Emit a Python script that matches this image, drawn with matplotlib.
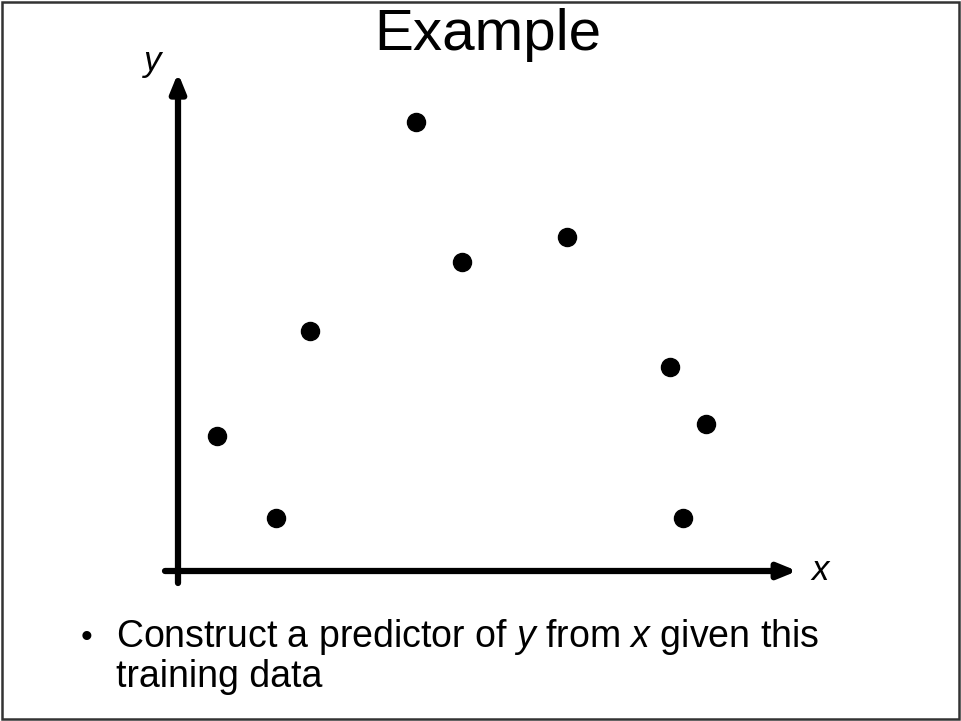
import matplotlib
matplotlib.use("Agg")
import matplotlib.pyplot as plt
from matplotlib.patches import Rectangle

plt.rcParams['font.family'] = ['Liberation Sans', 'DejaVu Sans']
plt.rcParams['mathtext.fontset'] = 'custom'
plt.rcParams['mathtext.rm'] = 'Liberation Sans'
plt.rcParams['mathtext.it'] = 'Liberation Sans:italic'

# training data
x_vals = [0.65, 1.63, 2.20, 3.97, 4.73, 6.48, 8.20, 8.80, 8.42]
y_vals = [2.25, 0.88, 4.00, 7.48, 5.15, 5.57, 3.40, 2.45, 0.88]

title_text = "Example"
caption_lines = ["Construct a predictor of $y$ from $x$ given this", "training data"]

W, H, DPI = 961, 721, 100
fig = plt.figure(figsize=(W / DPI, H / DPI), dpi=DPI)
ax = fig.add_axes([0, 0, 1, 1])
scale = 60.0  # pixels per data unit
ox, oy = 178, 571  # origin in pixels (from top-left)
ax.set_xlim(-ox / scale, (W - ox) / scale)
ax.set_ylim(-(H - oy) / scale, oy / scale)
ax.axis('off')

# axes with arrows
arrow = dict(arrowstyle='-|>,head_length=1.1,head_width=0.45',
             lw=4.5, color='black', shrinkA=0, shrinkB=0)
ax.annotate('', xy=(10.32, 0), xytext=(-13 / scale, 0), arrowprops=arrow)
ax.annotate('', xy=(0, 8.3), xytext=(0, -12 / scale), arrowprops=arrow)

ax.text(10.7, -9 / scale, 'x', fontsize=25, style='italic', ha='center', va='baseline')
ax.text(-0.42, 8.33, 'y', fontsize=25, style='italic', ha='center', va='baseline')

ax.plot(x_vals, y_vals, 'o', color='black', ms=13, zorder=5)

fig.text(488 / W, 1 - 50 / H, title_text, fontsize=42, ha='center', va='baseline')

fig.text(86 / W, 1 - 647 / H, '\u2022', fontsize=24, ha='center', va='baseline')
fig.text(116 / W, 1 - 647 / H, caption_lines[0], fontsize=27, ha='left', va='baseline')
fig.text(116 / W, 1 - 687 / H, caption_lines[1], fontsize=27, ha='left', va='baseline')

fig.patches.append(Rectangle((2 / W, 2 / H), (W - 4) / W, (H - 4) / H,
                             transform=fig.transFigure, fill=False,
                             edgecolor='#333333', lw=1.8))

fig.savefig('out.png', dpi=DPI)
